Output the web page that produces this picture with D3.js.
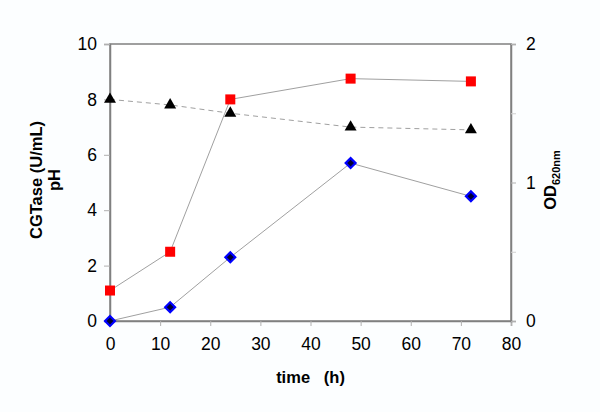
<!DOCTYPE html>
<html><head><meta charset="utf-8">
<script src="https://cdn.jsdelivr.net/npm/d3@7"></script>
<style>body{margin:0;background:#fcfeff;} svg{display:block;font-family:"Liberation Sans",Arial,sans-serif;}</style>
</head><body><svg id="c" width="600" height="412"></svg>
<script>
const timeH = [0, 12, 24, 48, 72];
const cgtase = [1.1, 2.5, 8.0, 8.75, 8.65];
const pH = [8.0, 7.8, 7.5, 7.0, 6.9];
const od620 = [0, 0.1, 0.46, 1.14, 0.9];
const xTicks = [0,10,20,30,40,50,60,70,80];
const yLeftTicks = [0,2,4,6,8,10];
const yRightTicks = [0,1,2];
const yRightMinor = [0.5,1.5];

const svg = d3.select("#c");
svg.append("rect").attr("width",600).attr("height",412).attr("fill","#fcfeff");
const L=110,R=511,T=44,B=321;
const x = d3.scaleLinear().domain([0,80]).range([L,R]);
const yL = d3.scaleLinear().domain([0,10]).range([B,T]);
const yR = d3.scaleLinear().domain([0,2]).range([B,T]);
const axisColor="#808080";

svg.append("rect").attr("x",L).attr("y",T).attr("width",R-L).attr("height",B-T)
  .attr("fill","#ffffff").attr("stroke",axisColor).attr("stroke-width",1.5);

function styleAxis(g){
  g.select(".domain").attr("stroke",axisColor).attr("stroke-width",1.5);
  g.selectAll(".tick line").attr("stroke","#b0b0b0");
  g.selectAll(".tick text").attr("fill","#000").attr("font-size",17.5).attr("font-family","'Liberation Sans',Arial,sans-serif");
}
svg.append("g").attr("transform",`translate(0,${B})`)
  .call(d3.axisBottom(x).tickValues(xTicks).tickSize(5).tickPadding(12).tickFormat(d3.format("d")))
  .call(styleAxis);
svg.append("g").attr("transform",`translate(${L},0)`)
  .call(d3.axisLeft(yL).tickValues(yLeftTicks).tickSize(6).tickPadding(7).tickFormat(d3.format("d")))
  .call(styleAxis);
svg.append("g").attr("transform",`translate(${R},0)`)
  .call(d3.axisRight(yR).tickValues(yRightTicks).tickSize(5).tickPadding(10).tickFormat(d3.format("d")))
  .call(styleAxis);
svg.append("g").attr("transform",`translate(${R},0)`)
  .call(d3.axisRight(yR).tickValues(yRightMinor).tickSize(5).tickFormat(""))
  .call(g=>{g.select(".domain").remove();g.selectAll(".tick line").attr("stroke","#d0d0d0");});

const lineC = d3.line().x((d,i)=>x(timeH[i])).y(d=>yL(d));
const lineR = d3.line().x((d,i)=>x(timeH[i])).y(d=>yR(d));
svg.append("path").datum(cgtase).attr("d",lineC).attr("fill","none").attr("stroke","#a0a0a0").attr("stroke-width",1);
svg.append("path").datum(pH).attr("d",lineC).attr("fill","none").attr("stroke","#a0a0a0").attr("stroke-width",1).attr("stroke-dasharray","5,4");
svg.append("path").datum(od620).attr("d",lineR).attr("fill","none").attr("stroke","#a0a0a0").attr("stroke-width",1);

// markers
svg.append("g").selectAll("rect").data(cgtase).join("rect")
  .attr("x",(d,i)=>x(timeH[i])-5).attr("y",d=>yL(d)-5).attr("width",10).attr("height",10).attr("fill","#ff0000");
const tri = d3.symbol().type(d3.symbolTriangle).size(62);
svg.append("g").selectAll("path").data(pH).join("path")
  .attr("d",tri).attr("transform",(d,i)=>`translate(${x(timeH[i])},${yL(d)})`).attr("fill","#000");
svg.append("g").selectAll("rect").data(od620).join("rect")
  .attr("x",-3.5).attr("y",-3.5).attr("width",7).attr("height",7)
  .attr("transform",(d,i)=>`translate(${x(timeH[i])},${yR(d)}) rotate(45)`)
  .attr("fill","#000033").attr("stroke","#0000ff").attr("stroke-width",2.2);

// titles
svg.append("text").attr("x",(L+R)/2).attr("y",383).attr("text-anchor","middle")
  .attr("font-weight","bold").attr("font-size",16.5).attr("xml:space","preserve").text("time   (h)");
const lt = svg.append("text").attr("transform","translate(42,180) rotate(-90)").attr("text-anchor","middle")
  .attr("font-weight","bold").attr("font-size",16.5);
lt.append("tspan").attr("x",0).attr("dy",0).text("CGTase (U/mL)");
lt.append("tspan").attr("x",0).attr("dy",18).text("pH");
const rt = svg.append("text").attr("transform","translate(556,180) rotate(-90)").attr("text-anchor","middle")
  .attr("font-weight","bold").attr("font-size",16.5);
rt.append("tspan").text("OD");
rt.append("tspan").attr("font-size",11).attr("dy",4).text("620nm");
</script></body></html>
